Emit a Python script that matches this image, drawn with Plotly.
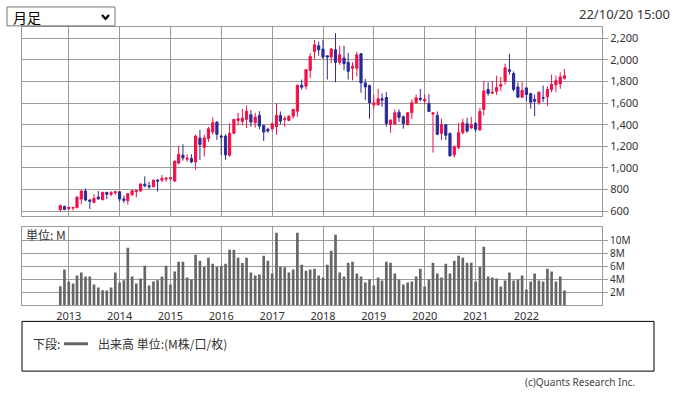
import pandas as pd
import plotly.graph_objects as go

# ---------------- data ----------------
months = pd.date_range("2012-11-01", "2022-10-01", freq="MS").strftime("%Y-%m-%d").tolist()

open_ = [615, 646,
         624, 630, 634, 713, 787, 704, 682, 731, 707, 774, 756, 771,
         780, 713, 698, 753, 781, 787, 851, 836, 827, 888, 888, 897,
         900, 879, 1044, 1118, 1081, 1087, 1056, 1277, 1191, 1271, 1332, 1424,
         1295, 1295, 1118, 1320, 1439, 1430, 1449, 1492, 1418, 1486, 1393, 1357,
         1363, 1381, 1486, 1449, 1439, 1479, 1525, 1764, 1755, 1902, 2077, 2129,
         2099, 2037, 2025, 2092, 1976, 2016, 1976, 1921, 1921, 2056, 1786, 1761,
         1584, 1584, 1639, 1651, 1400, 1406, 1516, 1473, 1400, 1510, 1602, 1645,
         1620, 1596, 1498, 1486, 1320, 1400, 1320, 1121, 1188, 1326, 1409, 1369,
         1412, 1351, 1541, 1725, 1691, 1709, 1755, 1801, 1908, 1872, 1749, 1654,
         1740, 1688, 1633, 1602, 1651, 1657, 1725, 1768, 1777, 1829]
high = [664, 650,
        642, 640, 737, 793, 811, 713, 759, 787, 780, 780, 786, 789,
        783, 744, 768, 790, 799, 860, 922, 873, 891, 897, 934, 915,
        915, 1069, 1204, 1219, 1127, 1127, 1308, 1351, 1308, 1381, 1467, 1430,
        1311, 1311, 1412, 1455, 1510, 1547, 1577, 1535, 1510, 1525, 1400, 1372,
        1418, 1596, 1522, 1479, 1486, 1547, 1771, 1817, 1915, 2062, 2184, 2169,
        2184, 2037, 2108, 2246, 2129, 2129, 2062, 1976, 2074, 2062, 1823, 1771,
        1676, 1731, 1688, 1700, 1449, 1541, 1541, 1486, 1516, 1633, 1679, 1731,
        1679, 1682, 1510, 1522, 1455, 1406, 1326, 1210, 1418, 1455, 1464, 1473,
        1424, 1556, 1804, 1792, 1801, 1853, 1841, 1964, 2056, 1893, 1792, 1792,
        1746, 1694, 1679, 1709, 1761, 1755, 1862, 1853, 1884, 1915]
low = [597, 612,
       612, 606, 627, 664, 694, 621, 676, 710, 701, 713, 738, 753,
       689, 676, 661, 744, 728, 781, 821, 805, 821, 781, 867, 873,
       885, 872, 1035, 1069, 1056, 1044, 983, 1075, 1105, 1240, 1308, 1259,
       1118, 1075, 1105, 1311, 1394, 1394, 1369, 1381, 1372, 1357, 1250, 1326,
       1341, 1308, 1403, 1381, 1433, 1455, 1473, 1725, 1725, 1829, 2007, 2037,
       2007, 1817, 1970, 1792, 1954, 1902, 1817, 1810, 1847, 1694, 1626, 1455,
       1547, 1577, 1565, 1381, 1326, 1400, 1424, 1363, 1393, 1455, 1596, 1617,
       1587, 1516, 1142, 1302, 1259, 1259, 1105, 1096, 1173, 1311, 1326, 1363,
       1332, 1345, 1486, 1669, 1682, 1675, 1709, 1771, 1862, 1709, 1651, 1651,
       1617, 1547, 1479, 1584, 1608, 1571, 1700, 1700, 1731, 1816]
close = [652, 615,
         636, 634, 731, 787, 704, 692, 719, 713, 774, 756, 771, 780,
         713, 701, 762, 790, 790, 851, 836, 827, 888, 879, 903, 906,
         909, 1063, 1127, 1093, 1090, 1056, 1295, 1216, 1277, 1363, 1418, 1311,
         1286, 1121, 1320, 1449, 1455, 1461, 1525, 1424, 1470, 1387, 1332, 1341,
         1409, 1486, 1433, 1455, 1479, 1541, 1764, 1746, 1908, 2031, 2138, 2092,
         2025, 2025, 2099, 1976, 2046, 1964, 1893, 1939, 2046, 1786, 1749, 1602,
         1602, 1639, 1627, 1412, 1443, 1510, 1467, 1412, 1510, 1602, 1648, 1633,
         1633, 1522, 1510, 1311, 1400, 1302, 1112, 1194, 1326, 1418, 1341, 1400,
         1357, 1522, 1712, 1688, 1700, 1743, 1771, 1927, 1893, 1725, 1654, 1718,
         1679, 1608, 1617, 1700, 1645, 1725, 1771, 1807, 1841, 1853]
volume = [2.97, 5.54,
          3.69, 3.38, 4.62, 5.08, 4.46, 4.46, 3.23, 2.77, 2.36, 2.31, 2.77, 5.08,
          3.54, 3.90, 8.92, 4.46, 3.38, 4.15, 6.15, 3.08, 3.69, 3.90, 4.46, 6.15,
          3.23, 5.23, 6.77, 6.77, 4.31, 4.00, 7.85, 6.92, 6.00, 7.38, 6.46, 5.95,
          6.15, 6.46, 8.62, 8.62, 7.38, 6.56, 7.38, 5.08, 4.62, 4.77, 7.69, 6.92,
          4.92, 11.23, 6.00, 5.90, 5.08, 5.54, 11.23, 6.31, 5.38, 5.54, 5.69, 4.62,
          4.31, 6.31, 8.46, 10.92, 5.08, 4.46, 6.62, 6.77, 4.92, 4.46, 3.54, 4.00,
          3.08, 4.31, 3.85, 6.77, 6.62, 4.92, 4.00, 3.23, 3.54, 3.69, 4.46, 5.69,
          2.92, 4.00, 6.62, 4.92, 4.31, 6.46, 4.92, 6.92, 7.69, 7.38, 6.62, 6.62,
          3.69, 5.95, 9.08, 4.46, 4.31, 4.15, 2.92, 3.85, 5.08, 3.85, 4.00, 4.62,
          2.46, 3.69, 4.92, 3.85, 3.69, 5.69, 5.23, 3.69, 4.46, 2.31]

year_ticks = ["2013-01-01", "2014-01-01", "2015-01-01", "2016-01-01", "2017-01-01",
              "2018-01-01", "2019-01-01", "2020-01-01", "2021-01-01", "2022-01-01"]
year_labels = ["2013", "2014", "2015", "2016", "2017",
               "2018", "2019", "2020", "2021", "2022"]
price_ticks = [600, 800, 1000, 1200, 1400, 1600, 1800, 2000, 2200]
vol_ticks = [2, 4, 6, 8, 10]
vol_tick_text = ["2M", "4M", "6M", "8M", "10M"]

# ---------------- style ----------------
W, H = 675, 398
RED = "#ee1148"
BLUE = "#2b2b96"
GRID = "#9a9a9a"
TXT = "#333333"
NUMFONT = "Noto Sans"
JPFONT = "Noto Sans CJK JP"


def px(x):
    return x / W


def py(y):
    return 1 - y / H


x_range = ["2012-01-31", "2023-06-28"]

fig = go.Figure()
fig.add_trace(go.Candlestick(
    x=months, open=open_, high=high, low=low, close=close,
    increasing=dict(line=dict(color=RED, width=1), fillcolor=RED),
    decreasing=dict(line=dict(color=BLUE, width=1), fillcolor=BLUE),
    whiskerwidth=0, xaxis="x", yaxis="y", hoverinfo="skip",
))
fig.add_trace(go.Bar(
    x=months, y=volume, marker=dict(color="#666666", line=dict(width=0)),
    width=1.65e9, xaxis="x2", yaxis="y2", hoverinfo="skip",
))

axis_common = dict(showline=True, mirror=True, linecolor=GRID, linewidth=1,
                   showgrid=True, gridcolor=GRID, gridwidth=1, zeroline=False)

fig.update_layout(
    width=W, height=H, margin=dict(l=0, r=0, t=0, b=0),
    paper_bgcolor="white", plot_bgcolor="white", showlegend=False,
    boxgap=0.2,
    xaxis=dict(domain=[px(22), px(602)], range=x_range, type="date",
               tickvals=year_ticks, showticklabels=False,
               ticks="", anchor="y", rangeslider=dict(visible=False),
               **axis_common),
    yaxis=dict(domain=[py(217), py(27)], range=[557, 2304], side="right",
               tickvals=price_ticks, tickformat=",d", ticks="outside",
               ticklen=5, tickcolor=GRID, anchor="x",
               tickfont=dict(family=NUMFONT, size=11, color=TXT),
               **axis_common),
    xaxis2=dict(domain=[px(22), px(602)], range=x_range, type="date",
                tickvals=year_ticks, ticktext=year_labels,
                ticks="", anchor="y2",
                tickfont=dict(family=NUMFONT, size=11, color=TXT),
                **axis_common),
    yaxis2=dict(domain=[py(307), py(228)], range=[0, 12.15], side="right",
                tickvals=vol_ticks, ticktext=vol_tick_text, ticks="outside",
                ticklen=5, tickcolor=GRID, anchor="x2",
                tickfont=dict(family=NUMFONT, size=10, color=TXT),
                **axis_common),
)

shapes = [
    # period selector box
    dict(type="rect", xref="paper", yref="paper", x0=px(7), x1=px(115),
         y0=py(26), y1=py(7), line=dict(color="#767676", width=1),
         fillcolor="white"),
    dict(type="path", xref="paper", yref="paper",
         path=f"M {px(102)} {py(15)} L {px(105.5)} {py(19)} L {px(109)} {py(15)}",
         line=dict(color="black", width=2.2)),
    # legend box
    dict(type="rect", xref="paper", yref="paper", x0=px(22), x1=px(654),
         y0=py(373), y1=py(323), line=dict(color="black", width=1)),
    dict(type="line", xref="paper", yref="paper", x0=px(64), x1=px(88),
         y0=py(345.5), y1=py(345.5), line=dict(color="#666666", width=3)),
]
fig.update_layout(shapes=shapes)

annotations = [
    dict(text="月足", x=px(11), y=py(17), xanchor="left", yanchor="middle",
         font=dict(family=JPFONT, size=14, color="black")),
    dict(text="22/10/20 15:00", x=px(672), y=py(14), xanchor="right",
         yanchor="middle", font=dict(family=NUMFONT, size=13, color=TXT)),
    dict(text="単位: M", x=px(24), y=py(235.5), xanchor="left",
         yanchor="middle", font=dict(family=JPFONT, size=12, color=TXT)),
    dict(text="下段:", x=px(31), y=py(345.5), xanchor="left",
         yanchor="middle", font=dict(family=JPFONT, size=12, color=TXT)),
    dict(text="出来高 単位:(M株/口/枚)", x=px(96), y=py(345.5),
         xanchor="left", yanchor="middle",
         font=dict(family=JPFONT, size=12, color=TXT)),
    dict(text="(c)Quants Research Inc.", x=px(637), y=py(384),
         xanchor="right", yanchor="middle",
         font=dict(family=NUMFONT, size=10, color="#444444")),
]
for a in annotations:
    a.update(xref="paper", yref="paper", showarrow=False)
fig.update_layout(annotations=annotations)

fig.write_html("out.html",
               config={"displayModeBar": False, "staticPlot": True},
               post_script="document.body.style.margin='0';"
                           "document.body.style.overflow='hidden';")
